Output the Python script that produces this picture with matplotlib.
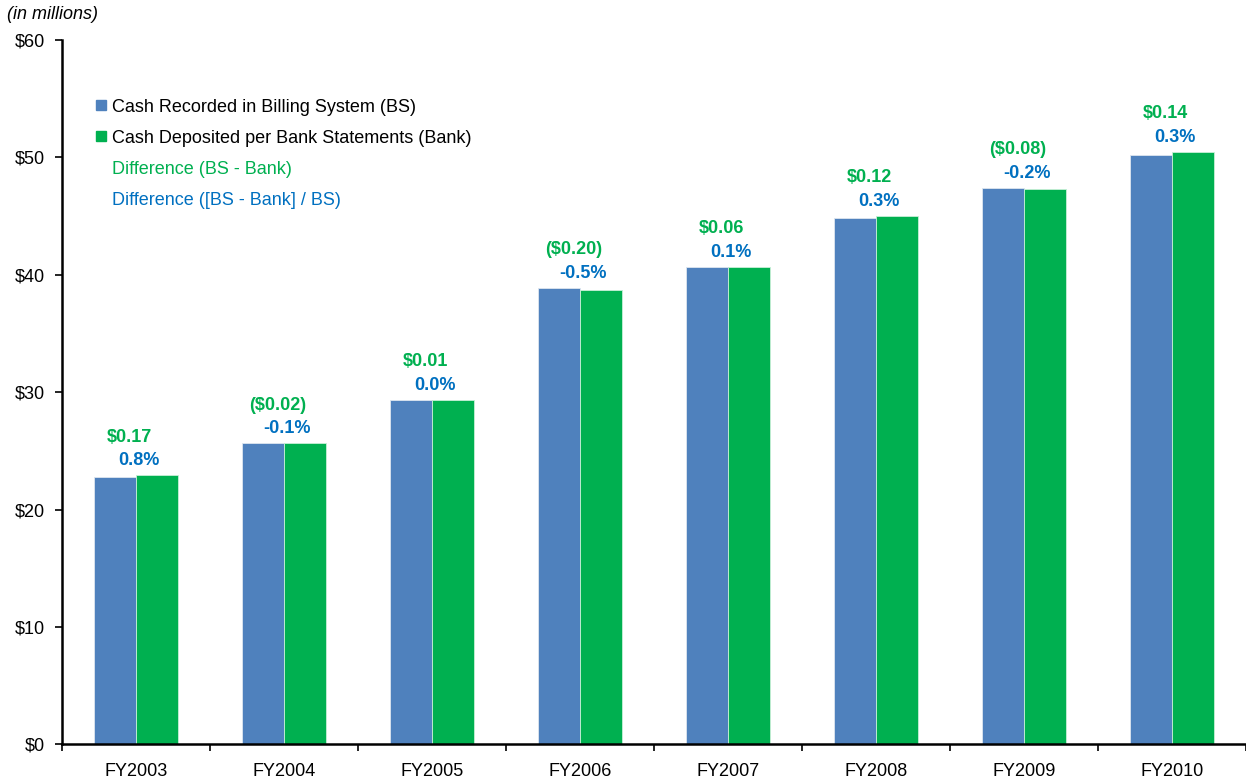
import numpy as np
import matplotlib.pyplot as plt
from matplotlib.lines import Line2D

plt.rcParams["font.family"] = ["Liberation Sans", "DejaVu Sans"]

years = ["FY2003", "FY2004", "FY2005", "FY2006", "FY2007", "FY2008", "FY2009", "FY2010"]
cash_bs = [22.76, 25.65, 29.34, 38.86, 40.67, 44.87, 47.40, 50.19]
cash_bank = [22.93, 25.65, 29.34, 38.74, 40.67, 45.02, 47.32, 50.47]
diff_dollar = ["$0.17", "($0.02)", "$0.01", "($0.20)", "$0.06", "$0.12", "($0.08)", "$0.14"]
diff_pct = ["0.8%", "-0.1%", "0.0%", "-0.5%", "0.1%", "0.3%", "-0.2%", "0.3%"]

blue = "#4F81BD"
green = "#00B050"
txt_green = "#00B050"
txt_blue = "#0070C0"

fig = plt.figure(figsize=(12.46, 7.79), dpi=100)
ax = fig.add_axes([0.0498, 0.0443, 0.9502, 0.9044])

x = np.arange(len(years))
w = 0.285
ax.bar(x - w / 2, cash_bs, w, color=blue, edgecolor="#DDE6F0", linewidth=0.6)
ax.bar(x + w / 2, cash_bank, w, color=green, edgecolor="#C8F0D8", linewidth=0.6)

# data labels: dollar difference on top, percent difference below it
for i in range(len(years)):
    top = max(cash_bs[i], cash_bank[i])
    ax.annotate(diff_dollar[i], (x[i] - 0.045, top), xytext=(0, 27.5), textcoords="offset points",
                ha="center", va="center", color=txt_green, fontsize=13, fontweight="bold")
    ax.annotate(diff_pct[i], (x[i] + 0.018, top), xytext=(0, 10.5), textcoords="offset points",
                ha="center", va="center", color=txt_blue, fontsize=13, fontweight="bold")

ax.set_xlim(-0.5, len(years) - 0.5)
ax.set_ylim(0, 60)
ax.set_yticks(np.arange(0, 61, 10))
ax.set_yticklabels([f"${v}" for v in range(0, 61, 10)], fontsize=13)
ax.set_xticks(x)
ax.set_xticklabels(years, fontsize=13)
ax.set_xticks(np.arange(-0.5, len(years)), minor=True)
ax.tick_params(axis="x", which="major", length=0, pad=13)
ax.tick_params(axis="x", which="minor", length=5, width=1.2, direction="out")
ax.tick_params(axis="y", length=5, width=1.2, direction="out", pad=7)

for s in ["top", "right"]:
    ax.spines[s].set_visible(False)
for s in ["left", "bottom"]:
    ax.spines[s].set_linewidth(1.8)
    ax.spines[s].set_color("black")

handles = [
    Line2D([], [], marker="s", color=blue, linestyle="none", markersize=7),
    Line2D([], [], marker="s", color=green, linestyle="none", markersize=7),
    Line2D([], [], linestyle="none"),
    Line2D([], [], linestyle="none"),
]
labels = [
    "Cash Recorded in Billing System (BS)",
    "Cash Deposited per Bank Statements (Bank)",
    "Difference (BS - Bank)",
    "Difference ([BS - Bank] / BS)",
]
leg = ax.legend(handles, labels, loc="upper left", bbox_to_anchor=(0.023, 0.927),
                frameon=False, fontsize=13, handlelength=0.55, handletextpad=0.3,
                labelspacing=0.78, borderaxespad=0)
leg.get_texts()[2].set_color(txt_green)
leg.get_texts()[3].set_color(txt_blue)

fig.text(0.006, 0.981, "(in millions)", fontsize=13, style="italic", va="center", ha="left")

fig.savefig("out.png", dpi=100)
